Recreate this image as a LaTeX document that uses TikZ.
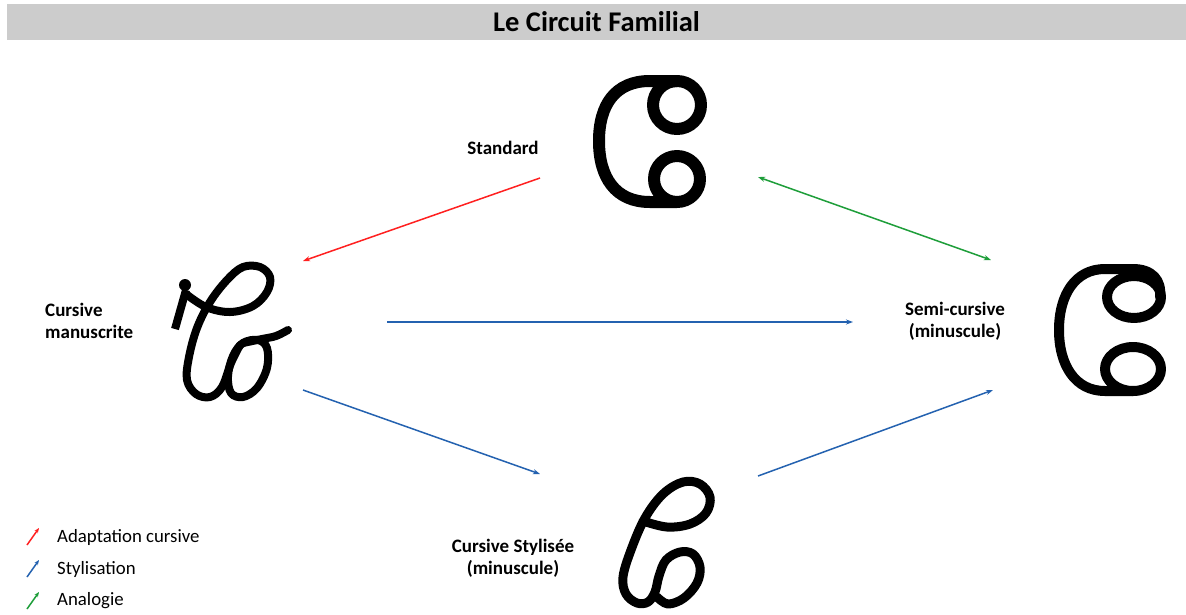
\documentclass[tikz,border=0pt]{standalone}
\usepackage{fontspec}
\setmainfont{Carlito}
\usetikzlibrary{arrows.meta}
\definecolor{titlegray}{HTML}{CCCCCC}
\definecolor{arred}{HTML}{FF2020}
\definecolor{arblue}{HTML}{2462B0}
\definecolor{argreen}{HTML}{1E9E3A}
\tikzset{
  lbl/.style={font=\fontsize{19}{22}\selectfont\bfseries, align=center, inner sep=0pt},
  legtxt/.style={font=\fontsize{18.8}{22}\selectfont, anchor=west, inner sep=0pt},
  conn/.style={line width=1.5pt, -{Stealth[length=7pt,width=5pt]}},
  legarrow/.style={line width=1.5pt, -{Stealth[length=5pt,width=4pt]}},
  glyph/.style={line width=#1, line join=round, line cap=round},
}
\begin{document}
\begin{tikzpicture}[x=1pt,y=-1pt]
\useasboundingbox (0,0) rectangle (1186,614);
\fill[white] (0,0) rectangle (1186,614);
% title
\node[fill=titlegray, minimum width=1179pt, minimum height=36pt, inner sep=0pt,
      font=\fontsize{28.5}{30}\selectfont\bfseries] (title) at (596.5,22) {Le Circuit Familial};

% Standard glyph
\draw[glyph=12pt] (677,81) -- (650,81) .. controls (615,81) and (599,105) .. (599,141)
   .. controls (599,177) and (615,202) .. (650,202) -- (677,202);
\draw[glyph=12pt] (677,105) circle (24);
\draw[glyph=12pt] (677,179) circle (23);

% Semi-cursive glyph
\draw[glyph=10pt] (1160,297) .. controls (1162,280) and (1152,269) .. (1133,269) -- (1105,269)
   .. controls (1075,269) and (1059,295) .. (1059,330)
   .. controls (1059,365) and (1075,391) .. (1105,391) -- (1133,391);
\draw[glyph=10pt] (1134,297) ellipse [x radius=27, y radius=21];
\draw[glyph=10pt] (1133,369) ellipse [x radius=28, y radius=22];

% Cursive manuscrite glyph
\fill (185,285) circle (6);
\draw[line width=8pt] (186,290) -- (175,329);
\draw[glyph=8pt] plot[smooth, tension=0.6] coordinates {(186,294) (206,307) (230,312) (253,306) (267,292) (270,277) (260,267) (243,267) (227,280) (210,302) (197,328) (189,357) (187,380) (196,394) (210,397) (222,387) (231,363) (240,345)};
\draw[glyph=8pt] plot[smooth cycle, tension=0.6] coordinates {(243,343) (258,340) (267,348) (267,368) (257,388) (243,397) (231,393) (228,376) (233,356)};
\draw[glyph=8pt] plot[smooth, tension=0.6] coordinates {(243,343) (262,339) (276,336) (288,330)};

% Cursive stylisee glyph
\draw[glyph=9pt] plot[smooth, tension=0.6] coordinates {(643,521) (667,527) (690,524) (706,513) (710,497) (700,484) (683,482) (663,494) (645,518) (631,550) (623,577) (626,594) (637,603) (648,602) (655,592) (659,576) (666,560) (680,552) (693,554) (700,567) (697,583) (684,598) (668,604) (657,597)};

% labels
\node[lbl] (lstd) at (503,148) {Standard};
\node[lbl, align=left, anchor=west] (lcur) at (45,321) {Cursive\\manuscrite};
\node[lbl] (lsemi) at (955,321) {Semi-cursive\\(minuscule)};
\node[lbl] (lsty) at (513,558) {Cursive Stylisée\\(minuscule)};

% connector endpoints
\coordinate (stdL) at (540,178);
\coordinate (stdR) at (758,177);
\coordinate (curTR) at (303,261);
\coordinate (curR) at (387,322);
\coordinate (curBR) at (303,390);
\coordinate (semiL) at (853,322);
\coordinate (semiTL) at (991,260);
\coordinate (semiBL) at (993,390);
\coordinate (styTL) at (540,474);
\coordinate (styTR) at (758,476);

\draw[conn, arred] (stdL) -- (curTR);
\draw[conn, argreen, {Stealth[length=7pt,width=5pt]}-{Stealth[length=7pt,width=5pt]}] (stdR) -- (semiTL);
\draw[conn, arblue] (curR) -- (semiL);
\draw[conn, arblue] (curBR) -- (styTL);
\draw[conn, arblue] (styTR) -- (semiBL);

% legend
\coordinate (lr0) at (27,545); \coordinate (lr1) at (39,528);
\coordinate (lb0) at (27,577); \coordinate (lb1) at (39,560);
\coordinate (lg0) at (27,609); \coordinate (lg1) at (39,592);
\draw[legarrow, arred] (lr0) -- (lr1);
\draw[legarrow, arblue] (lb0) -- (lb1);
\draw[legarrow, argreen] (lg0) -- (lg1);
\node[legtxt] (t1) at (57,537) {Adaptation cursive};
\node[legtxt] (t2) at (57,569) {Stylisation};
\node[legtxt] (t3) at (57,601) {Analogie};
\end{tikzpicture}
\end{document}
